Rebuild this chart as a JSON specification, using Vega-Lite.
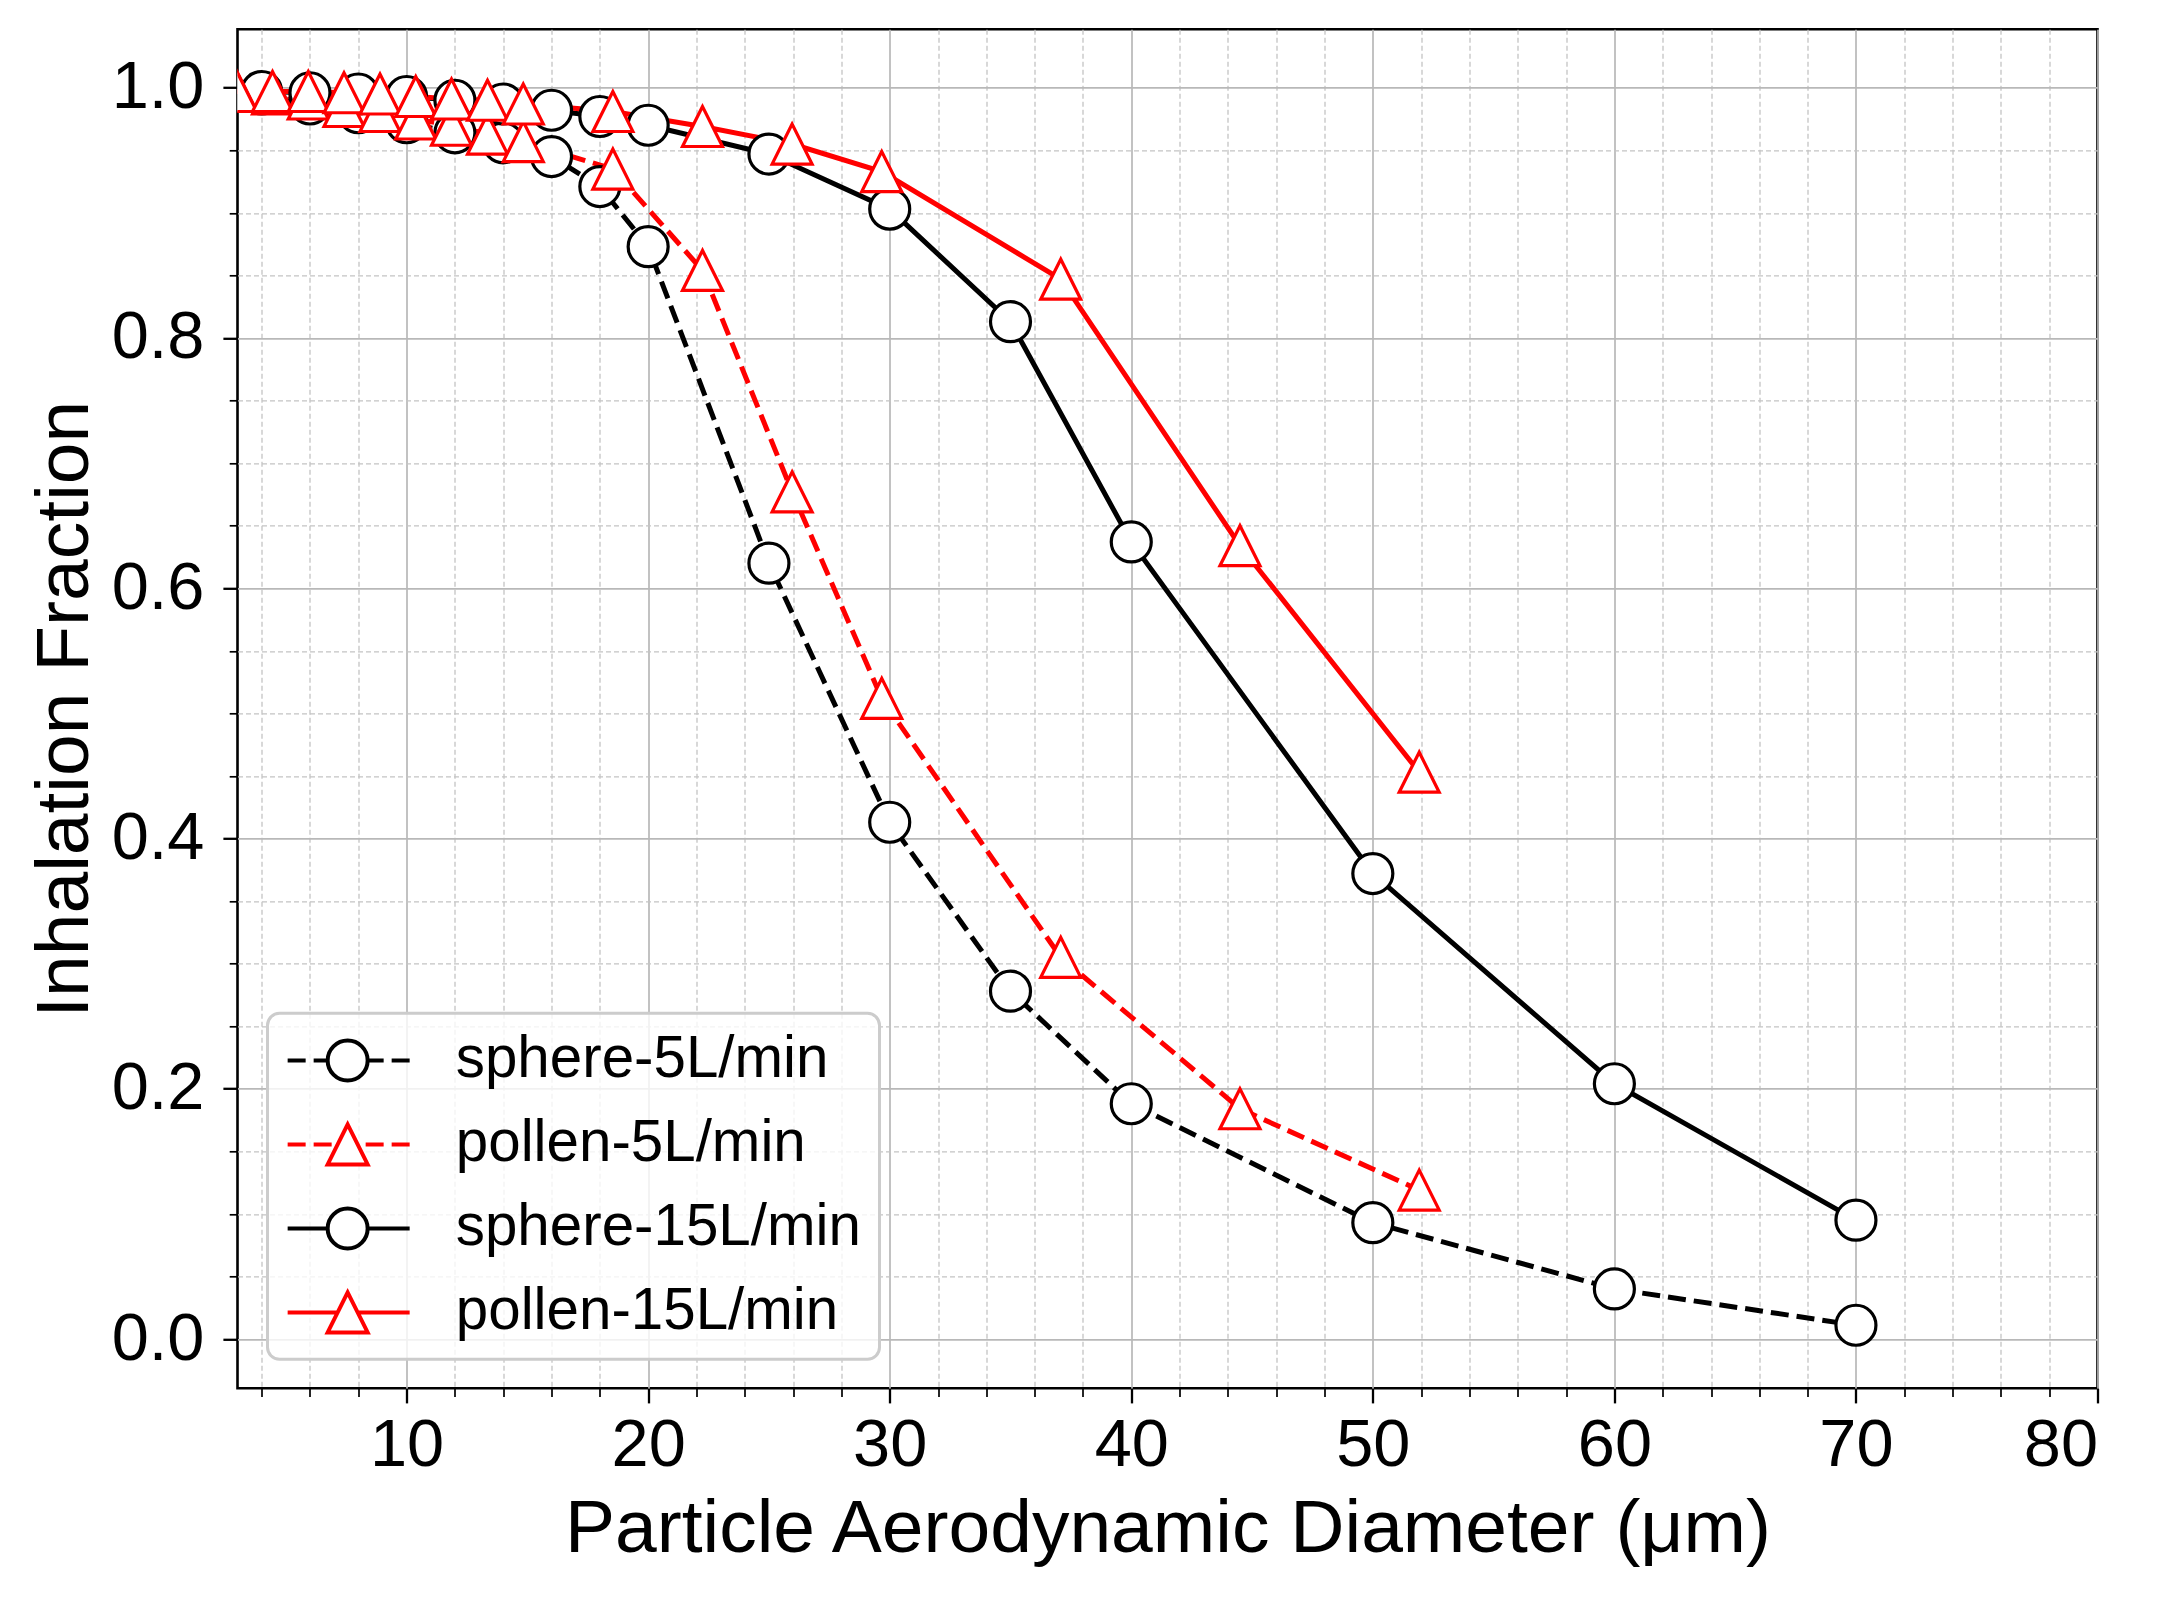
{
  "$schema": "https://vega.github.io/schema/vega-lite/v6.json",
  "width": 1860,
  "height": 1359,
  "autosize": {"type": "none"},
  "padding": {"left": 237.5, "top": 29.3, "right": 66.5, "bottom": 210.7},
  "background": "white",
  "config": {
    "font": "Liberation Sans",
    "view": {"stroke": "black", "strokeWidth": 2.6},
    "legend": {
      "title": null,
      "orient": "bottom-left",
      "offset": 29.5,
      "padding": 18,
      "rowPadding": 25,
      "labelFont": "Liberation Sans",
      "labelFontSize": 58.3,
      "labelColor": "black",
      "labelOffset": 112,
      "labelLimit": 1000,
      "symbolSize": 1600,
      "symbolStrokeWidth": 4,
      "symbolFillColor": "white",
      "symbolOpacity": 1,
      "fillColor": "rgba(255,255,255,0.8)",
      "strokeColor": "#cccccc",
      "strokeWidth": 3,
      "cornerRadius": 12
    }
  },
  "data": {
    "values": [
      {"series": "sphere-5L/min", "d": 4, "f": 0.995},
      {"series": "sphere-5L/min", "d": 6, "f": 0.987},
      {"series": "sphere-5L/min", "d": 8, "f": 0.980},
      {"series": "sphere-5L/min", "d": 10, "f": 0.972},
      {"series": "sphere-5L/min", "d": 12, "f": 0.964},
      {"series": "sphere-5L/min", "d": 14, "f": 0.956},
      {"series": "sphere-5L/min", "d": 16, "f": 0.945},
      {"series": "sphere-5L/min", "d": 18, "f": 0.921},
      {"series": "sphere-5L/min", "d": 20, "f": 0.873},
      {"series": "sphere-5L/min", "d": 25, "f": 0.620},
      {"series": "sphere-5L/min", "d": 30, "f": 0.413},
      {"series": "sphere-5L/min", "d": 35, "f": 0.278},
      {"series": "sphere-5L/min", "d": 40, "f": 0.188},
      {"series": "sphere-5L/min", "d": 50, "f": 0.093},
      {"series": "sphere-5L/min", "d": 60, "f": 0.040},
      {"series": "sphere-5L/min", "d": 70, "f": 0.011},
      {"series": "pollen-5L/min", "d": 2.97, "f": 0.997},
      {"series": "pollen-5L/min", "d": 4.45, "f": 0.995},
      {"series": "pollen-5L/min", "d": 5.93, "f": 0.991},
      {"series": "pollen-5L/min", "d": 7.41, "f": 0.985},
      {"series": "pollen-5L/min", "d": 8.9, "f": 0.981},
      {"series": "pollen-5L/min", "d": 10.38, "f": 0.975},
      {"series": "pollen-5L/min", "d": 11.86, "f": 0.970},
      {"series": "pollen-5L/min", "d": 13.35, "f": 0.963},
      {"series": "pollen-5L/min", "d": 14.83, "f": 0.957},
      {"series": "pollen-5L/min", "d": 18.54, "f": 0.935},
      {"series": "pollen-5L/min", "d": 22.25, "f": 0.854},
      {"series": "pollen-5L/min", "d": 25.96, "f": 0.677},
      {"series": "pollen-5L/min", "d": 29.67, "f": 0.512},
      {"series": "pollen-5L/min", "d": 37.08, "f": 0.305},
      {"series": "pollen-5L/min", "d": 44.5, "f": 0.184},
      {"series": "pollen-5L/min", "d": 51.92, "f": 0.119},
      {"series": "sphere-15L/min", "d": 4, "f": 0.997},
      {"series": "sphere-15L/min", "d": 6, "f": 0.996},
      {"series": "sphere-15L/min", "d": 8, "f": 0.995},
      {"series": "sphere-15L/min", "d": 10, "f": 0.993},
      {"series": "sphere-15L/min", "d": 12, "f": 0.990},
      {"series": "sphere-15L/min", "d": 14, "f": 0.987},
      {"series": "sphere-15L/min", "d": 16, "f": 0.982},
      {"series": "sphere-15L/min", "d": 18, "f": 0.977},
      {"series": "sphere-15L/min", "d": 20, "f": 0.970},
      {"series": "sphere-15L/min", "d": 25, "f": 0.947},
      {"series": "sphere-15L/min", "d": 30, "f": 0.903},
      {"series": "sphere-15L/min", "d": 35, "f": 0.813},
      {"series": "sphere-15L/min", "d": 40, "f": 0.637},
      {"series": "sphere-15L/min", "d": 50, "f": 0.372},
      {"series": "sphere-15L/min", "d": 60, "f": 0.204},
      {"series": "sphere-15L/min", "d": 70, "f": 0.095},
      {"series": "pollen-15L/min", "d": 2.97, "f": 0.997},
      {"series": "pollen-15L/min", "d": 4.45, "f": 0.997},
      {"series": "pollen-15L/min", "d": 5.93, "f": 0.997},
      {"series": "pollen-15L/min", "d": 7.41, "f": 0.996},
      {"series": "pollen-15L/min", "d": 8.9, "f": 0.995},
      {"series": "pollen-15L/min", "d": 10.38, "f": 0.993},
      {"series": "pollen-15L/min", "d": 11.86, "f": 0.991},
      {"series": "pollen-15L/min", "d": 13.35, "f": 0.990},
      {"series": "pollen-15L/min", "d": 14.83, "f": 0.987},
      {"series": "pollen-15L/min", "d": 18.54, "f": 0.981},
      {"series": "pollen-15L/min", "d": 22.25, "f": 0.969},
      {"series": "pollen-15L/min", "d": 25.96, "f": 0.955},
      {"series": "pollen-15L/min", "d": 29.67, "f": 0.933},
      {"series": "pollen-15L/min", "d": 37.08, "f": 0.847},
      {"series": "pollen-15L/min", "d": 44.5, "f": 0.634},
      {"series": "pollen-15L/min", "d": 51.92, "f": 0.453}
    ]
  },
  "encoding": {
    "x": {
      "field": "d", "type": "quantitative",
      "scale": {"domain": [3, 80], "nice": false, "zero": false}
    },
    "y": {
      "field": "f", "type": "quantitative",
      "scale": {"domain": [-0.0394, 1.0467], "nice": false, "zero": false}
    },
    "stroke": {
      "field": "series", "type": "nominal",
      "scale": {
        "domain": ["sphere-5L/min", "pollen-5L/min", "sphere-15L/min", "pollen-15L/min"],
        "range": ["#000000", "#ff0000", "#000000", "#ff0000"]
      }
    }
  },
  "layer": [
    {
      "mark": {"type": "point", "filled": false, "fill": "white", "opacity": 0, "strokeWidth": 4, "size": 1600, "clip": true},
      "encoding": {
        "x": {"field": "d", "type": "quantitative", "axis": null},
        "y": {"field": "f", "type": "quantitative", "axis": null},
        "stroke": {"field": "series", "type": "nominal", "legend": {}},
        "shape": {
          "field": "series", "type": "nominal",
          "scale": {
            "domain": ["sphere-5L/min", "pollen-5L/min", "sphere-15L/min", "pollen-15L/min"],
            "range": [
              "M-1.35,0H-0.45M-0.05,0H0.65M2.65,0H3.45M3.85,0H4.75M0.65,0A1,1 0 1,1 2.65,0A1,1 0 1,1 0.65,0Z",
              "M-1.35,0H-0.45M-0.05,0H0.85M2.55,0H3.45M3.85,0H4.75M1.65,-1L0.65,1L2.65,1Z",
              "M-1.35,0H0.65M2.65,0H4.75M0.65,0A1,1 0 1,1 2.65,0A1,1 0 1,1 0.65,0Z",
              "M-1.35,0H1.15M2.15,0H4.75M1.65,-1L0.65,1L2.65,1Z"
            ]
          },
          "legend": {}
        }
      }
    },
    {
      "transform": [{"filter": {"field": "series", "oneOf": ["sphere-5L/min", "pollen-5L/min"]}}],
      "mark": {"type": "line", "strokeWidth": 5, "strokeDash": [18, 8], "clip": true},
      "encoding": {
        "x": {
          "field": "d", "type": "quantitative",
          "axis": {
            "orient": "bottom",
            "values": [10, 20, 30, 40, 50, 60, 70, 80],
            "domain": false,
            "grid": true, "gridColor": "#b8b8b8", "gridWidth": 1.7,
            "ticks": true, "tickSize": 14.6, "tickWidth": 2.3, "tickColor": "black",
            "labelFontSize": 66.7, "labelColor": "black", "labelPadding": 10,
            "title": "Particle Aerodynamic Diameter (μm)",
            "titleFontSize": 75, "titleFontWeight": "normal", "titleColor": "black",
            "titlePadding": 13
          }
        },
        "y": {
          "field": "f", "type": "quantitative",
          "axis": {
            "orient": "left",
            "values": [0, 0.2, 0.4, 0.6, 0.8, 1.0],
            "format": ".1f",
            "domain": false,
            "grid": true, "gridColor": "#b8b8b8", "gridWidth": 1.7,
            "ticks": true, "tickSize": 14.6, "tickWidth": 2.3, "tickColor": "black",
            "labelFontSize": 66.7, "labelColor": "black", "labelPadding": 19,
            "title": "Inhalation Fraction",
            "titleFontSize": 75, "titleFontWeight": "normal", "titleColor": "black",
            "titlePadding": 8
          }
        }
      }
    },
    {
      "transform": [{"filter": {"field": "series", "oneOf": ["sphere-15L/min", "pollen-15L/min"]}}],
      "mark": {"type": "line", "strokeWidth": 5, "clip": true},
      "encoding": {
        "x": {"field": "d", "type": "quantitative", "axis": null},
        "y": {"field": "f", "type": "quantitative", "axis": null}
      }
    },
    {
      "transform": [{"filter": {"field": "series", "oneOf": ["sphere-5L/min", "sphere-15L/min"]}}],
      "mark": {"type": "point", "shape": "circle", "filled": false, "fill": "white", "fillOpacity": 1, "opacity": 1, "strokeWidth": 3.2, "size": 1600, "clip": true},
      "encoding": {
        "x": {
          "field": "d", "type": "quantitative",
          "axis": {
            "orient": "bottom",
            "values": [4, 6, 8, 12, 14, 16, 18, 22, 24, 26, 28, 32, 34, 36, 38, 42, 44, 46, 48, 52, 54, 56, 58, 62, 64, 66, 68, 72, 74, 76, 78],
            "domain": false, "labels": false, "title": null,
            "grid": true, "gridColor": "#c4c4c4", "gridWidth": 1.3, "gridDash": [5, 3],
            "ticks": true, "tickSize": 8.3, "tickWidth": 1.7, "tickColor": "black"
          }
        },
        "y": {
          "field": "f", "type": "quantitative",
          "axis": {
            "orient": "left",
            "values": [0.05, 0.1, 0.15, 0.25, 0.3, 0.35, 0.45, 0.5, 0.55, 0.65, 0.7, 0.75, 0.85, 0.9, 0.95],
            "domain": false, "labels": false, "title": null,
            "grid": true, "gridColor": "#c4c4c4", "gridWidth": 1.3, "gridDash": [5, 3],
            "ticks": true, "tickSize": 8.3, "tickWidth": 1.7, "tickColor": "black"
          }
        }
      }
    },
    {
      "transform": [{"filter": {"field": "series", "oneOf": ["pollen-5L/min", "pollen-15L/min"]}}],
      "mark": {"type": "point", "shape": "M0,-1L-1,1L1,1Z", "filled": false, "fill": "white", "fillOpacity": 1, "opacity": 1, "strokeWidth": 3.2, "size": 1600, "clip": true},
      "encoding": {
        "x": {"field": "d", "type": "quantitative", "axis": null},
        "y": {"field": "f", "type": "quantitative", "axis": null}
      }
    }
  ],
  "resolve": {"axis": {"x": "independent", "y": "independent"}}
}
